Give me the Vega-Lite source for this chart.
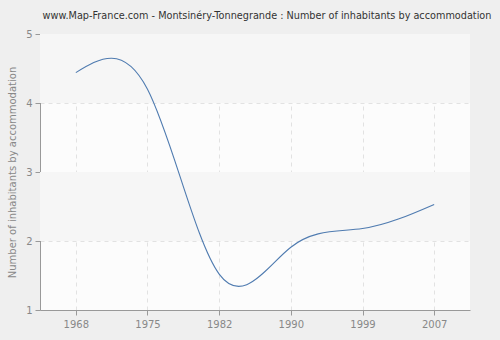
{
  "$schema": "https://vega.github.io/schema/vega-lite/v6.json",
  "width": 430,
  "height": 276,
  "autosize": {"type": "none"},
  "padding": {"left": 40, "top": 34, "right": 30, "bottom": 30},
  "background": "#efefef",
  "title": {
    "text": "www.Map-France.com - Montsinéry-Tonnegrande : Number of inhabitants by accommodation",
    "font": "DejaVu Sans",
    "fontSize": 9.7,
    "fontWeight": "normal",
    "color": "#333333",
    "anchor": "middle",
    "dx": 12,
    "offset": 8
  },
  "config": {
    "view": {"fill": "#fcfcfc", "stroke": null},
    "axis": {
      "labelFont": "DejaVu Sans",
      "labelFontSize": 10,
      "labelColor": "#888888",
      "titleFont": "DejaVu Sans",
      "titleFontSize": 10,
      "titleFontWeight": "normal",
      "titleColor": "#888888",
      "domainColor": "#999999",
      "tickColor": "#999999",
      "tickSize": 5,
      "gridColor": "#e2e2e2",
      "gridDash": [4, 4]
    }
  },
  "datasets": {
    "pop": [
      {"year": "1968", "value": 4.44},
      {"year": "1975", "value": 4.2},
      {"year": "1982", "value": 1.52},
      {"year": "1990", "value": 1.91},
      {"year": "1999", "value": 2.18},
      {"year": "2007", "value": 2.53}
    ],
    "bands": [
      {"lo": 4, "hi": 5},
      {"lo": 2, "hi": 3}
    ]
  },
  "layer": [
    {
      "data": {"name": "bands"},
      "mark": {"type": "rect", "color": "#f6f6f6"},
      "encoding": {
        "y": {"field": "lo", "type": "quantitative", "scale": {"domain": [1, 5]}},
        "y2": {"field": "hi"}
      }
    },
    {
      "data": {"name": "pop"},
      "mark": {"type": "line", "interpolate": "natural", "color": "#4f7bb0", "strokeWidth": 1.1},
      "encoding": {
        "x": {
          "field": "year",
          "type": "ordinal",
          "scale": {"type": "point", "padding": 0.5},
          "axis": {"title": null, "labelAngle": 0, "labelPadding": 4, "grid": true}
        },
        "y": {
          "field": "value",
          "type": "quantitative",
          "scale": {"domain": [1, 5], "nice": false, "zero": false},
          "axis": {"title": "Number of inhabitants by accommodation", "values": [1, 2, 3, 4, 5], "format": "d", "grid": true, "titlePadding": 8, "labelPadding": 3}
        }
      }
    }
  ]
}
